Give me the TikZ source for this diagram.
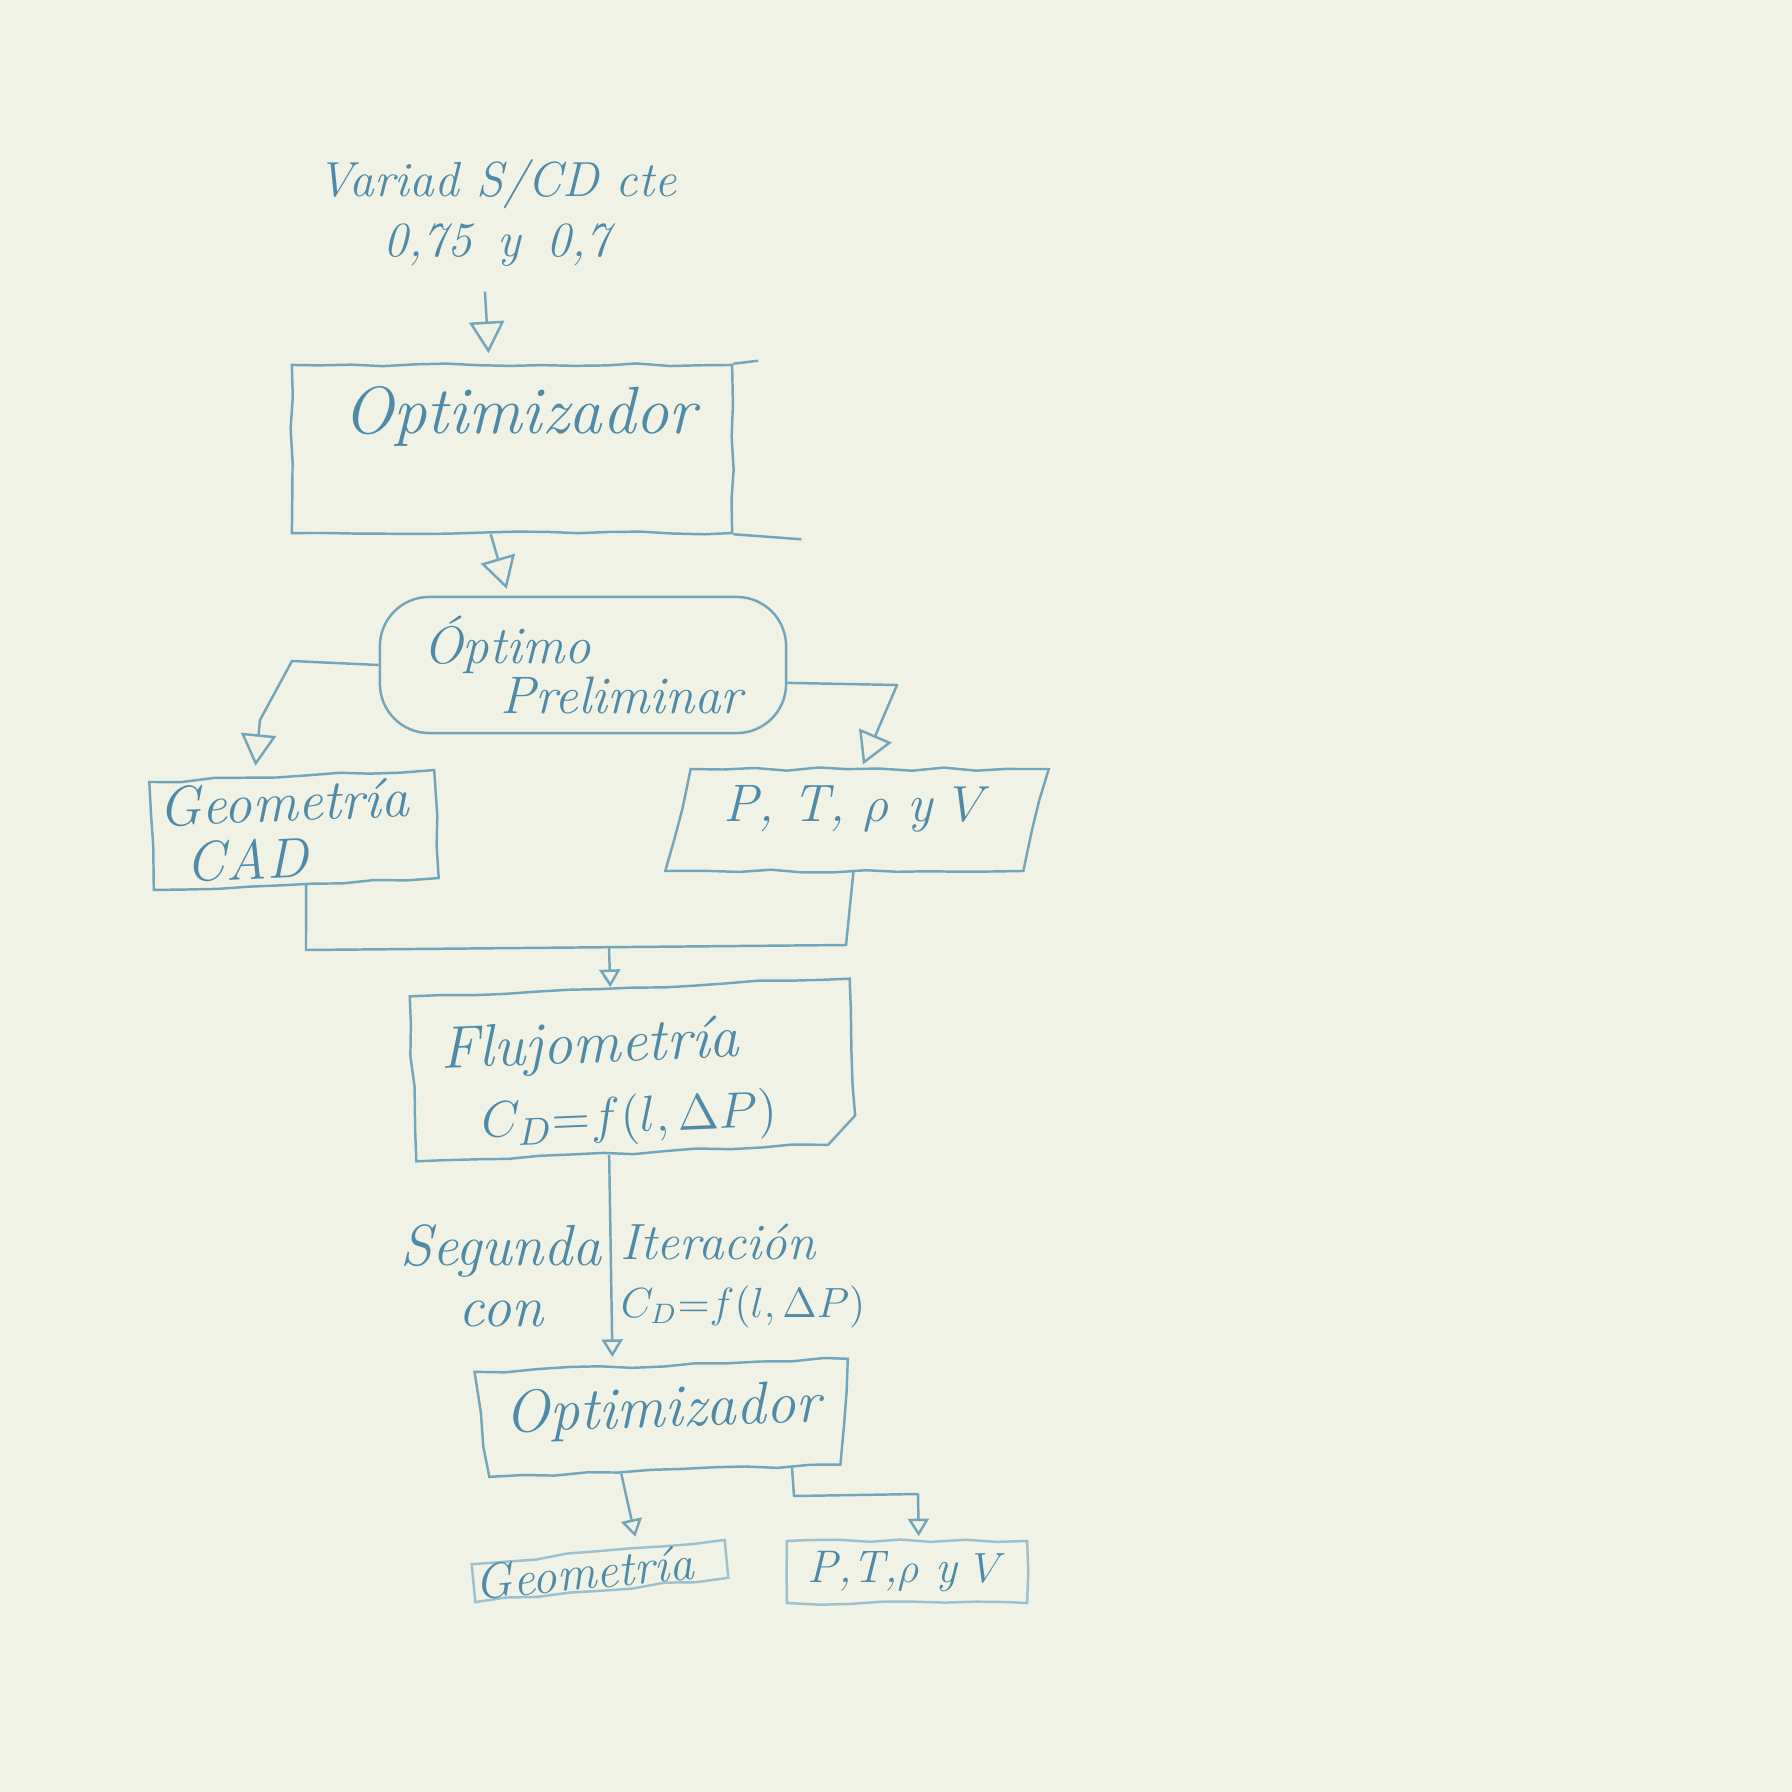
\documentclass[tikz,border=0pt]{standalone}
\usepackage{fontspec}
\usepackage{amsmath}
\usetikzlibrary{shapes,shapes.geometric,shapes.misc,positioning,calc,arrows.meta,decorations.pathmorphing}

\definecolor{paper}{HTML}{F0F2E5}
\definecolor{pencil}{HTML}{74A6BB}
\definecolor{pencillight}{HTML}{9CC0CE}
\definecolor{inkc}{HTML}{4F8BA8}

\newcommand{\handfont}[1]{\fontsize{#1}{#1}\selectfont\itshape}
\newcommand{\lifted}[2]{\raisebox{#1}[0pt][0pt]{#2}}

\tikzset{
    wobble/.style={decorate,decoration={random steps,segment length=9pt,amplitude=0.5pt}},
    plainbox/.style={draw=pencil,line width=0.7pt,text=inkc,inner sep=0pt,align=left},
    handbox/.style={plainbox,wobble},
    handtext/.style={text=inkc,inner sep=0pt,align=left},
    wire/.style={draw=pencil,line width=0.7pt,line join=round},
    bigtip/.style={-{Triangle[open,length=9pt,width=10pt]}},
    smalltip/.style={-{Triangle[open,length=5pt,width=6pt]}},
}

\begin{document}
\begin{tikzpicture}[x=0.01cm,y=-0.01cm]
    \pgfmathsetseed{11}
    \useasboundingbox (0,0) rectangle (1792,1792);
    \fill[paper] (0,0) rectangle (1792,1792);

    % Input values
    \node[handtext,align=center,font=\handfont{14}] (inputs) at (497,213) {Variad S/CD cte\\[3pt]0,75\, y\, 0,7};

    % First optimizer
    \node[handbox,minimum width=4.4cm,minimum height=1.68cm,font=\handfont{19},align=center] (opt1) at (512,449) {\lifted{4.5pt}{\hspace*{4.5pt}Optimizador}};
    \draw[wire] (opt1.north east) -- ++(25,-3);
    \draw[wire] (opt1.south east) -- ++(68,5);

    % Preliminary optimum
    \node[plainbox,rounded corners=14pt,minimum width=4.06cm,minimum height=1.36cm,font=\handfont{15}] (prelim) at (583,665) {\'Optimo\\[-1pt]\hspace*{22pt}Preliminar};

    % Outputs of the first run
    \node[handbox,rotate=2.4,minimum width=2.85cm,minimum height=1.08cm,font=\handfont{16}] (geom1) at (294,830) {Geometr\'ia\hspace*{5pt}\\[0pt]\hspace*{7pt}CAD};
    \node[handbox,trapezium,trapezium left angle=76,trapezium right angle=104,inner xsep=9.2pt,inner ysep=14.5pt,font=\handfont{15},align=center] (pstate1) at (857,820) {\lifted{-0.5pt}{P, T, $\rho$ y $V$}};

    % Flow measurement
    \node[handbox,chamfered rectangle,chamfered rectangle corners=south east,chamfered rectangle xsep=8pt,chamfered rectangle ysep=8pt,rotate=2.3,minimum width=4.4cm,minimum height=1.65cm,font=\handfont{17}] (flow) at (633,1070) {\lifted{-17.6pt}{\hspace*{-14pt}\shortstack[l]{Flujometr\'ia\\[3pt]\hspace*{11pt}{\fontsize{15}{15}\selectfont$C_D{=}f(l,\Delta P)$}}}};

    % Second iteration labels
    \node[handtext,align=center,font=\handfont{16.5}] (iterleft) at (501,1276) {Segunda\\[1pt]con};
    \node[handtext,font=\handfont{14.5}] (iterright) at (743,1276) {Iteraci\'on\\[2pt]\fontsize{12}{12}\selectfont$C_D{=}f(l,\Delta P)$};

    % Second optimizer
    \node[handbox,trapezium,shape border rotate=180,trapezium angle=84,inner xsep=5pt,inner ysep=15pt,rotate=2,font=\handfont{17},align=center] (opt2) at (663,1418) {\lifted{-2.5pt}{Optimizador}};

    % Outputs of the second run
    \node[handbox,rotate=5.5,minimum width=2.54cm,minimum height=0.38cm,font=\handfont{14},draw=pencillight,align=center] (geom2) at (600,1571) {Geometr\'ia\hspace*{9pt}};
    \node[handbox,minimum width=2.4cm,minimum height=0.62cm,font=\handfont{13},draw=pencillight,align=center] (pstate2) at (907,1572) {P,T,$\rho$ y $V$};

    % Connectors
    \coordinate (leftbend) at (292,661);
    \coordinate (leftknee) at (260,720);
    \coordinate (rightbend) at (897,685);
    \coordinate (joinleft) at (306,950);
    \coordinate (joinmid) at (609,948);
    \coordinate (joinright) at (846,945);
    \coordinate (lowbend) at (794,1496);
    \coordinate (lowbendb) at (918,1494);

    \draw[wire,bigtip,shorten <=7pt,shorten >=3pt] (inputs.256) -- (opt1.105);
    \draw[wire,bigtip,shorten >=2pt] (opt1.256) -- (prelim.137);
    \draw[wire,bigtip,shorten >=3pt] (prelim.west) -- (leftbend) -- (leftknee) -- (geom1.124);
    \draw[wire,bigtip,shorten >=1pt] (prelim.-5) -- (rightbend) -- (pstate1.85);
    \draw[wire] (geom1.-80) -- (joinleft) -- (joinright) -- (pstate1.-94);
    \draw[wire,smalltip] (joinmid) -- (flow.103);
    \draw[wire,smalltip,shorten >=2.5pt] (flow.-108) -- (opt2.132);
    \draw[wire,smalltip,shorten >=3pt] (opt2.-129) -- (geom2.27);
    \draw[wire,smalltip,shorten >=1pt] (opt2.-23) -- (lowbend) -- (lowbendb) -- (pstate2.70);
\end{tikzpicture}
\end{document}
